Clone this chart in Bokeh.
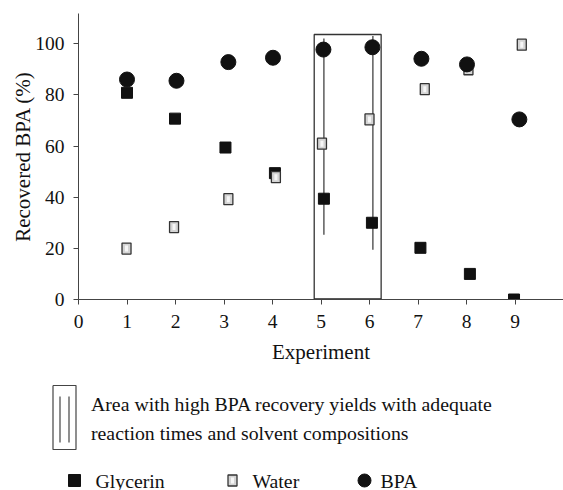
from bokeh.plotting import figure
from bokeh.models import Range1d, FixedTicker
from bokeh.embed import file_html
from bokeh.resources import INLINE
from bokeh.core.properties import value

FONT = "Liberation Serif"
INK = "#111111"

# ---- data ----
ticks_x = [0, 1, 2, 3, 4, 5, 6, 7, 8, 9]
ticks_y = [0, 20, 40, 60, 80, 100]
glycerin_x = [1.0, 1.99, 3.03, 4.05, 5.06, 6.05, 7.05, 8.07, 8.98]
glycerin = [80.8, 70.7, 59.4, 49.4, 39.4, 30.0, 20.2, 10.0, 0.0]
water_x = [0.99, 1.97, 3.09, 4.07, 5.02, 6.0, 7.14, 8.04, 9.14]
water = [19.9, 28.3, 39.2, 47.8, 60.9, 70.4, 82.2, 90.0, 99.6]
bpa_x = [1.0, 2.02, 3.09, 4.01, 5.05, 6.06, 7.07, 8.01, 9.09]
bpa = [86.0, 85.5, 92.8, 94.5, 97.7, 98.6, 94.1, 91.9, 70.4]
err_x = [5.06, 6.07]
err_low = [25.3, 19.4]
err_high = [102.0, 103.0]
box_left, box_right, box_top = 4.86, 6.24, 103.6
legend_labels = ["Glycerin", "Water", "BPA"]
note_lines = ["Area with high BPA recovery yields with adequate",
              "reaction times and solvent compositions"]

# ---- main plot ----
p = figure(width=563, height=367, output_backend="svg", toolbar_location=None,
           x_range=Range1d(0, 10.0), y_range=Range1d(0, 111.8),
           min_border_left=78, min_border_right=0, min_border_top=13, min_border_bottom=68)
p.outline_line_color = None
p.grid.grid_line_color = None

for ax in (p.xaxis[0], p.yaxis[0]):
    ax.axis_line_color = "#444444"
    ax.major_tick_line_color = "#444444"
    ax.minor_tick_line_color = None
    ax.major_tick_out = 5
    ax.major_tick_in = 0
    ax.major_label_text_font = FONT
    ax.major_label_text_font_size = "19.5px"
    ax.major_label_text_color = INK
    ax.axis_label_text_font = FONT
    ax.axis_label_text_font_size = "21px"
    ax.axis_label_text_font_style = "normal"
    ax.axis_label_text_color = INK

p.xaxis.ticker = FixedTicker(ticks=ticks_x)
p.yaxis.ticker = FixedTicker(ticks=ticks_y)
p.xaxis.axis_label = "Experiment"
p.yaxis.axis_label = "Recovered BPA (%)"
p.xaxis.major_label_standoff = 10
p.yaxis.major_label_standoff = 9
p.xaxis.axis_label_standoff = 9
p.yaxis.axis_label_standoff = -3

# highlight box
p.line([box_left, box_left, box_right, box_right], [0, box_top, box_top, 0],
       line_color="#333333", line_width=1.3)
p.line([box_left, box_right], [0, 0], line_color="#222222", line_width=2.5)

# error bars
p.segment(x0=err_x, y0=err_low, x1=err_x, y1=err_high, line_color="#333333", line_width=1.2)

# markers
p.scatter(glycerin_x, glycerin, marker="square", size=11, fill_color=INK, line_color=INK)
p.rect(water_x, water, width=9, height=11, width_units="screen", height_units="screen",
       fill_color="#d4d4d4", line_color="#333333", line_width=1.3)
p.rect(water_x, water, width=3, height=6, width_units="screen", height_units="screen",
       fill_color="#f6f6f6", line_color=None)
p.scatter(bpa_x, bpa, marker="circle", size=15, fill_color=INK, line_color=INK)

# ---- legend / note panel (pixel-like coordinates) ----
q = figure(width=563, height=123, output_backend="svg", toolbar_location=None,
           x_range=Range1d(0, 563), y_range=Range1d(123, 0), min_border=0)
q.axis.visible = False
q.grid.grid_line_color = None
q.outline_line_color = None

q.line([52.5, 52.5, 75.5, 75.5, 52.5], [18, 82, 82, 18, 18], line_color="#444444", line_width=1.2)
q.segment(x0=[59.5, 68.5], y0=[29, 29], x1=[59.5, 68.5], y1=[75, 75], line_color="#444444", line_width=1.2)
q.text(x=[90.5, 90.5], y=[36, 65], text=note_lines, text_font=value(FONT), text_font_size="19.8px",
       text_baseline="middle", text_color=INK)

q.scatter([74], [113], marker="square", size=12, fill_color=INK, line_color=INK)
q.rect([232], [113], width=9, height=11, width_units="screen", height_units="screen",
       fill_color="#d4d4d4", line_color="#333333", line_width=1.3)
q.rect([232], [113], width=3, height=6, width_units="screen", height_units="screen",
       fill_color="#f6f6f6", line_color=None)
q.scatter([364], [113], marker="circle", size=13, fill_color=INK, line_color=INK)
q.text(x=[95, 252, 380], y=[113, 113, 113], text=legend_labels, text_font=value(FONT),
       text_font_size="19.8px", text_baseline="middle", text_color=INK)

open("out.html", "w").write(file_html([p, q], INLINE))
